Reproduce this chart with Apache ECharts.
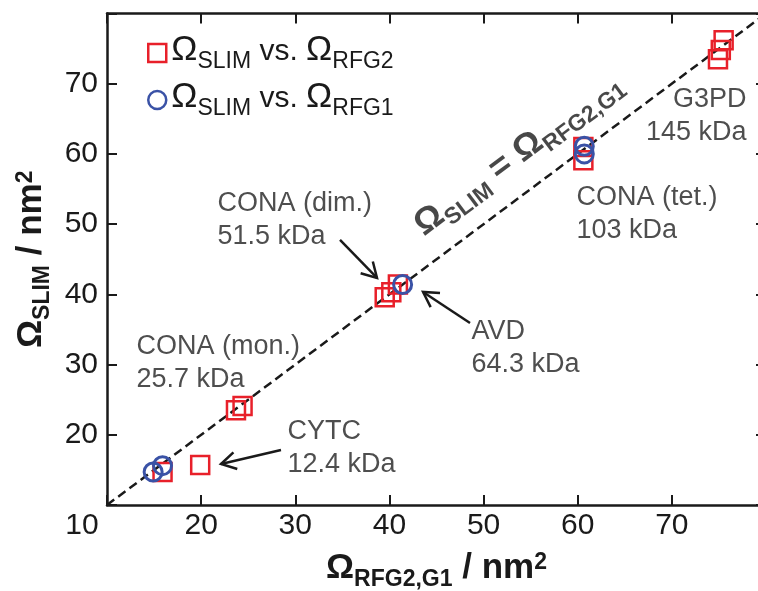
<!DOCTYPE html>
<html>
<head>
<meta charset="utf-8">
<script src="https://cdn.jsdelivr.net/npm/echarts@6/dist/echarts.min.js"></script>
<style>html,body{margin:0;padding:0;background:#fff}#c{width:758px;height:591px}</style>
</head>
<body>
<div id="c"></div>
<script>
// ---- data ----
const tickValues = [10, 20, 30, 40, 50, 60, 70];
const rfg2X = [15.9, 19.9, 23.7, 24.4, 39.5, 40.2, 40.9, 60.6, 60.6, 74.9, 75.2, 75.5];
const rfg2Y = [14.7, 15.7, 23.5, 24.1, 39.6, 40.3, 41.4, 61.0, 59.1, 73.5, 74.8, 76.2];
const rfg1X = [14.9, 15.9, 41.4, 60.7, 60.7];
const rfg1Y = [14.7, 15.6, 41.4, 61.1, 60.0];
const diagX = [10, 80];
const diagY = [10, 80];
const annText = ['CONA (dim.)\n51.5 kDa', 'AVD\n64.3 kDa', 'CONA (tet.)\n103 kDa', 'G3PD\n145 kDa', 'CONA (mon.)\n25.7 kDa', 'CYTC\n12.4 kDa'];
const annX = [21.79, 48.77, 59.93, 77.98, 13.19, 29.23];
const annY = [55.23, 36.99, 56.08, 70.04, 34.86, 22.75];
const annAlign = ['left', 'left', 'left', 'right', 'left', 'left'];
const arrowTailX = [34.75, 48.56, 28.48];
const arrowTailY = [47.75, 35.93, 17.83];
const arrowHeadX = [38.68, 43.57, 22.11];
const arrowHeadY = [42.34, 40.34, 15.84];
const diagLabelX = 53.9, diagLabelY = 59.6;

const RED = '#e8202a', BLUE = '#3a52a6', INK = '#1a1a1a';
const FONT = '"Liberation Sans", Arial, Helvetica, sans-serif';

const richBase = {
  m: {fontSize: 35, fontFamily: FONT, color: INK, lineHeight: 40, verticalAlign: 'top'},
  s: {fontSize: 23, fontFamily: FONT, color: INK, lineHeight: 25, padding: [22, 0, 0, 0], verticalAlign: 'bottom'},
  t: {fontSize: 30, fontFamily: FONT, color: INK, lineHeight: 40, verticalAlign: 'top', padding: [4, 0, 0, 0]},
  p: {fontSize: 23, fontFamily: FONT, color: INK, lineHeight: 25, verticalAlign: 'top'}
};
function boldRich() {
  const r = {};
  for (const k in richBase) r[k] = Object.assign({}, richBase[k], {fontWeight: 'bold'});
  return r;
}

const chart = echarts.init(document.getElementById('c'), null, {renderer: 'canvas'});

const axisLineStyle = {color: INK, width: 2.5};
const tickStyle = {show: true, inside: true, length: 10, lineStyle: {color: INK, width: 2}};

function xLabelFmt(v) {
  if (v === 10) return '{c|10}';
  return tickValues.indexOf(v) >= 0 ? String(v) : '';
}
function yLabelFmt(v) {
  if (v === 10) return '';
  return tickValues.indexOf(v) >= 0 ? String(v) : '';
}

const option = {
  animation: false,
  backgroundColor: '#fff',
  grid: {left: 107, top: 13.5, width: 659, bottom: 86, containLabel: false, outerBoundsMode: 'none'},
  legend: {
    orient: 'vertical', left: 142, top: 23, itemGap: 2,
    itemWidth: 18, itemHeight: 18,
    data: [
      {name: 'RFG2', icon: 'rect', itemStyle: {color: 'rgba(0,0,0,0)', borderColor: RED, borderWidth: 2.5}},
      {name: 'RFG1', icon: 'circle', itemStyle: {color: 'rgba(0,0,0,0)', borderColor: BLUE, borderWidth: 2.5}}
    ],
    formatter: function (n) { return '{m|Ω}{s|SLIM}{t| vs. }{m|Ω}{s|' + n + '}'; },
    textStyle: {rich: richBase}
  },
  xAxis: [
    {
      type: 'value', min: 10, max: 80, interval: 10, position: 'bottom',
      axisLine: {show: true, onZero: false, lineStyle: axisLineStyle},
      axisTick: tickStyle, splitLine: {show: false},
      axisLabel: {fontSize: 30, fontFamily: FONT, color: INK, margin: 6, formatter: xLabelFmt,
        rich: {c: {fontSize: 30, fontFamily: FONT, color: INK, padding: [0, 50, 0, 0]}}},
      name: '{m|Ω}{s|RFG2,G1}{m| / nm}{p|2}', nameLocation: 'middle', nameGap: 41,
      nameTextStyle: {rich: boldRich()}
    },
    {
      type: 'value', min: 10, max: 80, interval: 10, position: 'top',
      axisLine: {show: true, onZero: false, lineStyle: axisLineStyle},
      axisTick: tickStyle, axisLabel: {show: false}, splitLine: {show: false}
    }
  ],
  yAxis: [
    {
      type: 'value', min: 10, max: 80, interval: 10, position: 'left',
      axisLine: {show: true, onZero: false, lineStyle: axisLineStyle},
      axisTick: tickStyle, splitLine: {show: false},
      axisLabel: {fontSize: 30, fontFamily: FONT, color: INK, margin: 9, formatter: yLabelFmt},
      name: '{m|Ω}{s|SLIM}{m| / nm}{p|2}', nameLocation: 'middle', nameGap: 52,
      nameTextStyle: {rich: boldRich()}
    },
    {
      type: 'value', min: 10, max: 80, interval: 10, position: 'right',
      axisLine: {show: true, onZero: false, lineStyle: axisLineStyle},
      axisTick: tickStyle, axisLabel: {show: false}, splitLine: {show: false}
    }
  ],
  series: [
    {
      type: 'line', name: 'diag', silent: true, symbol: 'none',
      data: diagX.map((x, i) => [x, diagY[i]]),
      lineStyle: {color: INK, width: 2.5, type: [9, 5]}, z: 2
    },
    {
      type: 'scatter', name: 'RFG2', symbol: 'rect', symbolSize: 18,
      data: rfg2X.map((x, i) => [x, rfg2Y[i]]),
      itemStyle: {color: 'rgba(0,0,0,0)', borderColor: RED, borderWidth: 2.5, opacity: 1}, z: 3
    },
    {
      type: 'scatter', name: 'RFG1', symbol: 'circle', symbolSize: 18,
      data: rfg1X.map((x, i) => [x, rfg1Y[i]]),
      itemStyle: {color: 'rgba(0,0,0,0)', borderColor: BLUE, borderWidth: 3, opacity: 1}, z: 4
    },
    {
      type: 'scatter', name: 'ann', silent: true, symbolSize: 1,
      itemStyle: {color: 'rgba(0,0,0,0)'},
      data: annX.map((x, i) => ({value: [x, annY[i]], label: {align: annAlign[i]}})),
      label: {
        show: true, position: [0, 0], verticalAlign: 'top',
        fontSize: 27, lineHeight: 33, fontFamily: FONT, color: '#222',
        formatter: p => annText[p.dataIndex]
      }, z: 5
    },
    {
      type: 'scatter', name: 'diagLabel', silent: true, symbolSize: 1,
      itemStyle: {color: 'rgba(0,0,0,0)'},
      data: [[diagLabelX, diagLabelY]],
      label: {
        show: true, position: [0, 0], align: 'center', verticalAlign: 'middle', rotate: 36.7,
        formatter: '{m|Ω}{s|SLIM}{m| = Ω}{s|RFG2,G1}', rich: boldRich()
      }, z: 5
    },
    {
      type: 'custom', name: 'arrows', silent: true,
      data: arrowTailX.map((x, i) => [x, arrowTailY[i], arrowHeadX[i], arrowHeadY[i]]),
      encode: {x: [0, 2], y: [1, 3]},
      renderItem: function (params, api) {
        const a = api.coord([api.value(0), api.value(1)]);
        const b = api.coord([api.value(2), api.value(3)]);
        const ang = Math.atan2(b[1] - a[1], b[0] - a[0]);
        const L = 17, w = Math.PI / 6;
        const h1 = [b[0] - L * Math.cos(ang - w), b[1] - L * Math.sin(ang - w)];
        const h2 = [b[0] - L * Math.cos(ang + w), b[1] - L * Math.sin(ang + w)];
        const st = {stroke: INK, lineWidth: 2.5, fill: null, lineJoin: 'miter'};
        return {
          type: 'group',
          children: [
            {type: 'line', shape: {x1: a[0], y1: a[1], x2: b[0], y2: b[1]}, style: st},
            {type: 'polyline', shape: {points: [h1, b, h2]}, style: st}
          ]
        };
      }, z: 5
    }
  ]
};
chart.setOption(option);
</script>
</body>
</html>
